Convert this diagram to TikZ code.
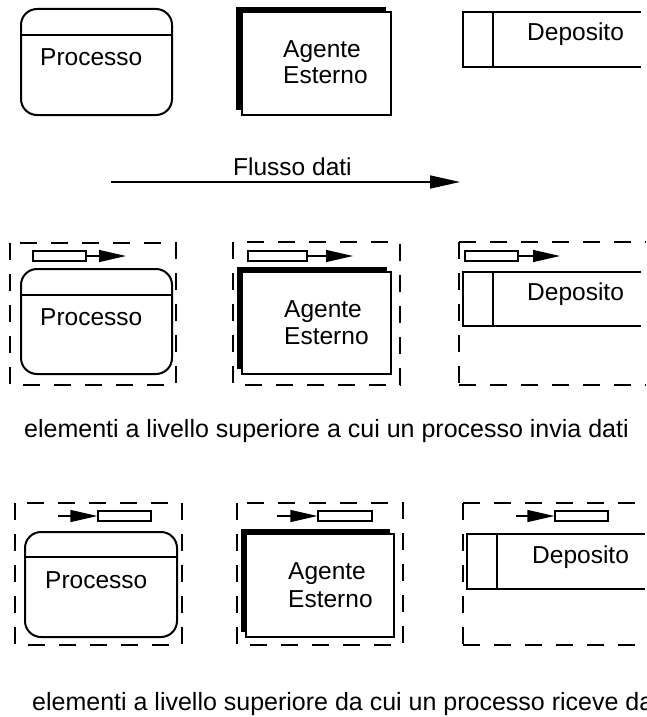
\documentclass[tikz,border=0pt]{standalone}
\usepackage{fontspec}
\setmainfont{Liberation Sans}
\usetikzlibrary{arrows.meta}
\begin{document}
\begin{tikzpicture}[x=1pt,y=-1pt,
  proc/.style={draw,line width=2pt,rounded corners=16pt,inner sep=0,fill=white},
  divline/.style={line width=2pt},
  agentbox/.style={draw,line width=2pt,inner sep=0,fill=white},
  shadowbox/.style={fill=black,inner sep=0},
  storeline/.style={line width=2pt},
  dashframe/.style={line width=1.8pt,dash pattern=on 17pt off 14pt},
  tok/.style={draw,line width=1.3pt,fill=white,inner sep=0,minimum height=10pt},
  flow/.style={line width=1.3pt,-{Triangle[length=27pt,width=12pt]}},
  bigflow/.style={line width=1.6pt,-{Triangle[length=30pt,width=13pt]}},
  lbl/.style={anchor=base west,inner sep=0,font=\fontsize{24.5}{27}\selectfont},
  captxt/.style={anchor=base west,inner sep=0,font=\fontsize{25}{28}\selectfont}]
\useasboundingbox (0,0) rectangle (646,717);
\clip (0,0) rectangle (646,717);

% ---------- top row ----------
\node[proc,minimum width=151pt,minimum height=106pt] (p1) at (96.5,62) {};
\draw[divline] (p1.west |- 0,35) -- (p1.east |- 0,35);
\node[lbl] (p1t) at (40,66) {Processo};

\node[shadowbox,minimum width=150pt,minimum height=103pt] (a1s) at (311,58.5) {};
\node[agentbox,minimum width=149pt,minimum height=103pt] (a1) at (316.5,63.5) {};
\node[lbl] (a1t) at (283,57) {Agente};
\node[lbl] (a1u) at (283,84) {Esterno};

\draw[storeline] (641,12) -- (463,12) -- (463,67) -- (641,67);
\draw[storeline] (493,12) -- (493,67);
\node[lbl] (d1t) at (527,41) {Deposito};

% ---------- data flow ----------
\coordinate (fs) at (111,182);
\coordinate (fe) at (460,182);
\draw[bigflow] (fs) -- (fe);
\node[lbl] (ft) at (233,175) {Flusso dati};

% ---------- middle row ----------
\draw[dashframe] (10,243) rectangle (176,385);
\node[proc,minimum width=151pt,minimum height=105pt] (p2) at (96.5,321.5) {};
\draw[divline] (p2.west |- 0,295) -- (p2.east |- 0,295);
\node[lbl] (p2t) at (40,325) {Processo};
\node[tok,minimum width=53pt] (t2p) at (59.5,256) {};
\coordinate (e2p) at (126,256);
\draw[flow] (t2p.east) -- (e2p);

\draw[dashframe] (233,242) rectangle (400,385);
\node[shadowbox,minimum width=150pt,minimum height=102pt] (a2s) at (312,318) {};
\node[agentbox,minimum width=149pt,minimum height=102pt] (a2) at (316.5,323) {};
\node[lbl] (a2t) at (284,317) {Agente};
\node[lbl] (a2u) at (284,344) {Esterno};
\node[tok,minimum width=59pt] (t2a) at (277.5,256) {};
\coordinate (e2a) at (353,256);
\draw[flow] (t2a.east) -- (e2a);

\draw[dashframe] (459,242) -- (646,242);
\draw[dashframe] (459,242) -- (459,385);
\draw[dashframe] (459,385) -- (646,385);
\draw[storeline] (641,272) -- (463,272) -- (463,326) -- (641,326);
\draw[storeline] (493,272) -- (493,326);
\node[lbl] (d2t) at (527,300) {Deposito};
\node[tok,minimum width=53pt] (t2d) at (491.5,256) {};
\coordinate (e2d) at (560,256);
\draw[flow] (t2d.east) -- (e2d);

\node[captxt] (c1) at (24,437) {elementi a livello superiore a cui un processo invia dati};

% ---------- bottom row ----------
\draw[dashframe] (15,503) rectangle (182,645);
\node[proc,minimum width=152pt,minimum height=105pt] (p3) at (101,584.5) {};
\draw[divline] (p3.west |- 0,557) -- (p3.east |- 0,557);
\node[lbl] (p3t) at (45,588) {Processo};
\coordinate (s3p) at (58,516);
\node[tok,minimum width=53pt] (t3p) at (124.5,516) {};
\draw[flow] (s3p) -- (t3p.west);

\draw[dashframe] (237,503) rectangle (403,645);
\node[shadowbox,minimum width=149pt,minimum height=103pt] (a3s) at (315.5,580.5) {};
\node[agentbox,minimum width=148pt,minimum height=103pt] (a3) at (320,585.5) {};
\node[lbl] (a3t) at (288,579) {Agente};
\node[lbl] (a3u) at (288,607) {Esterno};
\coordinate (s3a) at (277,516);
\node[tok,minimum width=54pt] (t3a) at (345,516) {};
\draw[flow] (s3a) -- (t3a.west);

\draw[dashframe] (463,503) -- (646,503);
\draw[dashframe] (463,503) -- (463,645);
\draw[dashframe] (463,645) -- (646,645);
\draw[storeline] (645,534) -- (467,534) -- (467,589) -- (645,589);
\draw[storeline] (497,534) -- (497,589);
\node[lbl] (d3t) at (532,563) {Deposito};
\coordinate (s3d) at (516,516);
\node[tok,minimum width=53pt] (t3d) at (581.5,516) {};
\draw[flow] (s3d) -- (t3d.west);

\node[captxt] (c2) at (32,710) {elementi a livello superiore da cui un processo riceve dati};
\end{tikzpicture}
\end{document}
